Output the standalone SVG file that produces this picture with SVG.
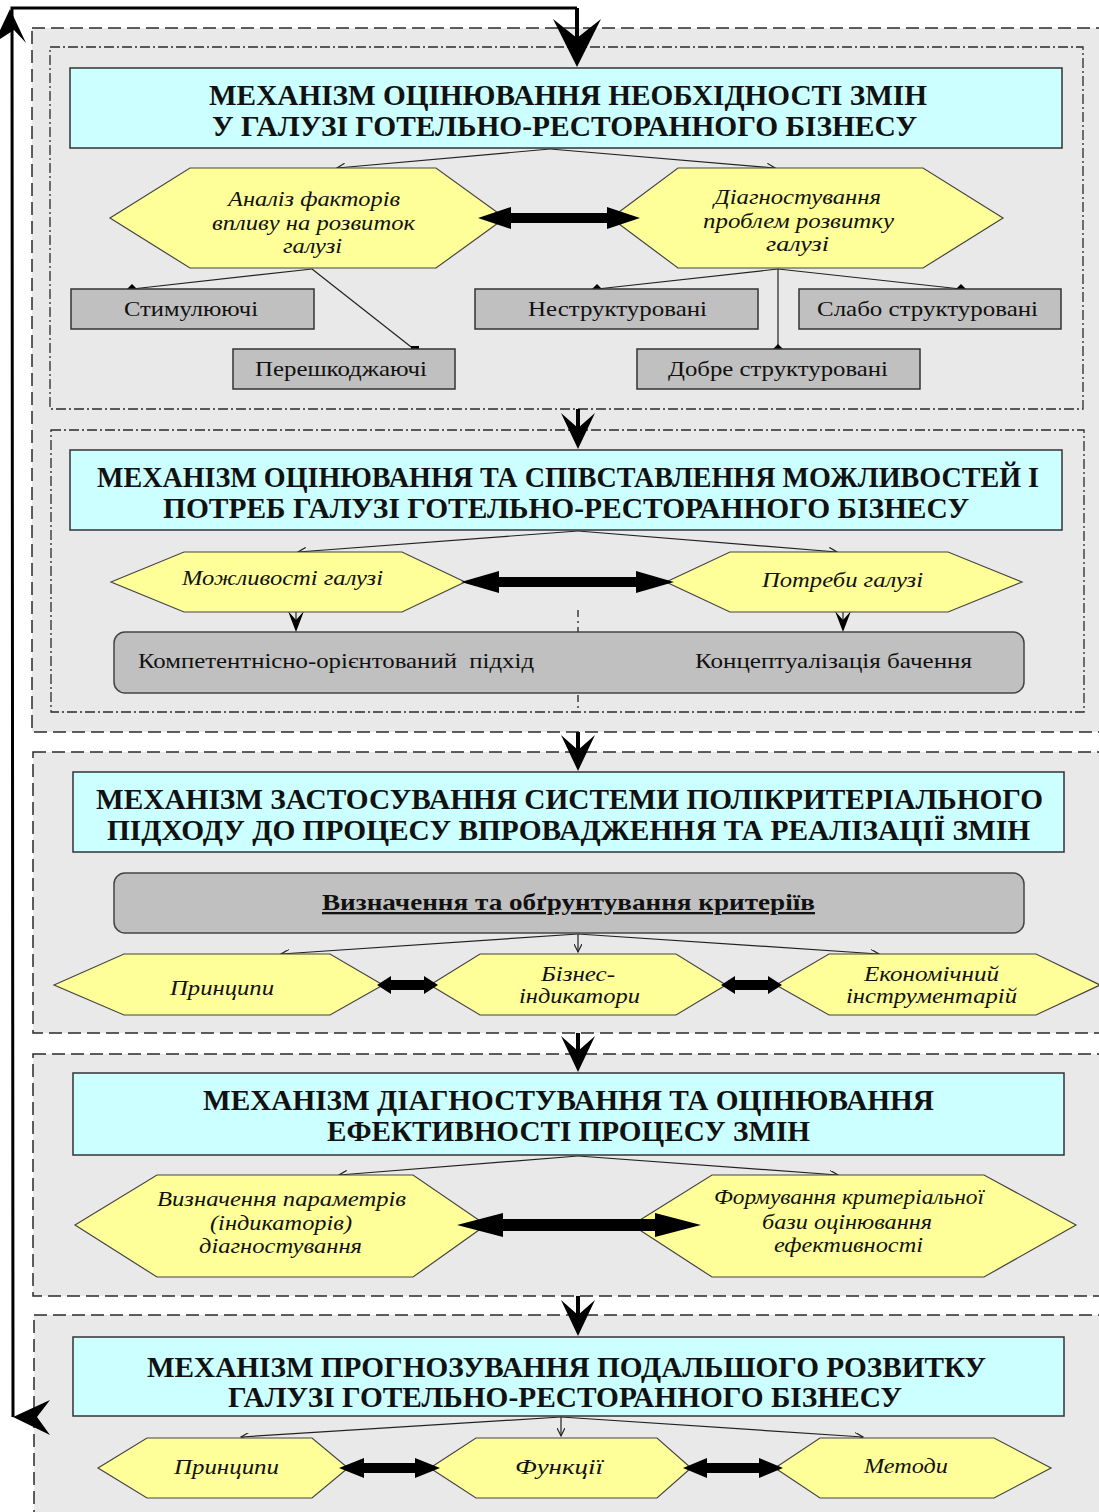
<svg xmlns="http://www.w3.org/2000/svg" width="1099" height="1512" viewBox="0 0 1099 1512">
<style>
.blk{fill:#e9e9e9;stroke:#2a2a2a;stroke-width:1.5;stroke-dasharray:13,6}
.inb{fill:#e9e9e9;stroke:#2a2a2a;stroke-width:1.3;stroke-dasharray:10,3,2,3}
.ttl{fill:#ccffff;stroke:#333;stroke-width:1.5}
.hex{fill:#ffff99;stroke:#444;stroke-width:1.2}
.gr{fill:#c0c0c0;stroke:#333;stroke-width:1.5}
.rr{fill:#c0c0c0;stroke:#444;stroke-width:1.5}
.tt{font-family:"Liberation Serif","Times New Roman",serif;font-weight:bold;font-size:29px;fill:#111}
.gt{font-family:"Liberation Serif","Times New Roman",serif;font-size:21px;fill:#111}
.ht{font-family:"Liberation Serif","Times New Roman",serif;font-style:italic;font-size:21px;fill:#111}
.bt{font-family:"Liberation Serif","Times New Roman",serif;font-weight:bold;font-size:23px;fill:#111;text-decoration:underline}
.cn{fill:none;stroke:#222;stroke-width:1.2}
.thk{fill:none;stroke:#000;stroke-width:4}
.fb{fill:none;stroke:#000;stroke-width:3}
.bk{fill:#000;stroke:none}
</style>
<defs>
<marker id="arr" markerUnits="userSpaceOnUse" markerWidth="10" markerHeight="8" refX="8" refY="4" orient="auto">
<path d="M0,0 L8,4 L0,8" fill="none" stroke="#222" stroke-width="1.2"/>
</marker>
<marker id="dia" markerUnits="userSpaceOnUse" markerWidth="10" markerHeight="10" refX="5" refY="5" orient="0">
<path d="M5,0 L10,5 L5,10 L0,5 Z" fill="#000"/>
</marker>
<marker id="sq" markerUnits="userSpaceOnUse" markerWidth="8" markerHeight="8" refX="4" refY="4" orient="0">
<rect x="0" y="0" width="8" height="8" fill="#000"/>
</marker>
</defs>
<rect width="1099" height="1512" fill="#fff"/>

<g id="blocks">
<rect class="blk" x="32" y="28" width="1090" height="704"/>
<rect class="inb" x="50" y="47" width="1033" height="362"/>
<rect class="inb" x="51" y="430" width="1033" height="282"/>
<rect class="blk" x="33" y="752" width="1090" height="281"/>
<rect class="blk" x="33" y="1054" width="1090" height="242"/>
<rect class="blk" x="34" y="1315" width="1090" height="230"/>
</g>

<g id="connectors">
<polyline class="fb" points="13,1417 12,8 577,8"/>
<polygon class="bk" points="10,9 26,43 14,30 -6,43"/>
<polygon class="bk" points="13,1417 50,1400 37,1417 50,1435"/>
<line class="thk" x1="577" y1="8" x2="577" y2="40"/>
<polygon class="bk" points="577,67 553,19 577,38 601,19"/>
<line class="thk" x1="578" y1="409" x2="578" y2="430"/>
<polygon class="bk" points="578,449 561,413 578,428 595,413"/>
<line class="thk" x1="578" y1="732" x2="578" y2="752"/>
<polygon class="bk" points="578,771 561,735 578,750 595,735"/>
<line class="thk" x1="578" y1="1033" x2="578" y2="1054"/>
<polygon class="bk" points="578,1072 561,1036 578,1051 595,1036"/>
<line class="thk" x1="578" y1="1296" x2="578" y2="1317"/>
<polygon class="bk" points="578,1336 561,1300 578,1315 595,1300"/>
<line class="cn" x1="550" y1="149" x2="337" y2="168" marker-end="url(#arr)"/>
<line class="cn" x1="550" y1="149" x2="775" y2="168" marker-end="url(#arr)"/>
<line class="cn" x1="312" y1="269" x2="132" y2="289" marker-end="url(#dia)"/>
<line class="cn" x1="312" y1="269" x2="415" y2="350" marker-end="url(#sq)"/>
<line class="cn" x1="778" y1="269" x2="597" y2="289" marker-end="url(#dia)"/>
<line class="cn" x1="778" y1="269" x2="961" y2="289" marker-end="url(#dia)"/>
<line class="cn" x1="778" y1="269" x2="778" y2="349" marker-end="url(#dia)"/>
<line class="cn" x1="578" y1="531" x2="298" y2="552" marker-end="url(#arr)"/>
<line class="cn" x1="578" y1="531" x2="837" y2="552" marker-end="url(#arr)"/>
<line x1="578" y1="610" x2="578" y2="712" stroke="#222" stroke-width="1.3" stroke-dasharray="7,4,2,4"/>
<line class="cn" x1="296" y1="612" x2="296" y2="622"/>
<polygon class="bk" points="296,632 288,611 296,620 304,611"/>
<line class="cn" x1="843" y1="612" x2="843" y2="622"/>
<polygon class="bk" points="843,632 835,611 843,620 851,611"/>
<line class="cn" x1="578" y1="934" x2="281" y2="954" marker-end="url(#arr)"/>
<line class="cn" x1="578" y1="934" x2="578" y2="952" marker-end="url(#arr)"/>
<line class="cn" x1="578" y1="934" x2="879" y2="954" marker-end="url(#arr)"/>
<line class="cn" x1="578" y1="1156" x2="339" y2="1175" marker-end="url(#arr)"/>
<line class="cn" x1="578" y1="1156" x2="838" y2="1175" marker-end="url(#arr)"/>
<line class="cn" x1="561" y1="1417" x2="241" y2="1437" marker-end="url(#arr)"/>
<line class="cn" x1="561" y1="1417" x2="561" y2="1436" marker-end="url(#arr)"/>
<line class="cn" x1="561" y1="1417" x2="863" y2="1437" marker-end="url(#arr)"/>
</g>

<g id="title1">
<rect class="ttl" x="70" y="68" width="992" height="80"/>
<text class="tt" x="209" y="105" textLength="718" lengthAdjust="spacingAndGlyphs">МЕХАНІЗМ ОЦІНЮВАННЯ НЕОБХІДНОСТІ ЗМІН</text>
<text class="tt" x="212" y="136" textLength="705" lengthAdjust="spacingAndGlyphs">У ГАЛУЗІ ГОТЕЛЬНО-РЕСТОРАННОГО БІЗНЕСУ</text>
</g>
<g id="hex-analiz">
<polygon class="hex" points="110,218 190,168 436,168 505,218 436,268 190,268"/>
<text class="ht" x="228" y="206" textLength="172" lengthAdjust="spacingAndGlyphs">Аналіз факторів</text>
<text class="ht" x="212" y="230" textLength="203" lengthAdjust="spacingAndGlyphs">впливу на розвиток</text>
<text class="ht" x="283" y="253" textLength="59" lengthAdjust="spacingAndGlyphs">галузі</text>
</g>
<g id="hex-diagn">
<polygon class="hex" points="611,218 678,168 923,168 1003,218 923,268 678,268"/>
<text class="ht" x="714" y="204" textLength="167" lengthAdjust="spacingAndGlyphs">Діагностування</text>
<text class="ht" x="703" y="228" textLength="191" lengthAdjust="spacingAndGlyphs">проблем розвитку</text>
<text class="ht" x="766" y="251" textLength="63" lengthAdjust="spacingAndGlyphs">галузі</text>
</g>
<g id="darrow1"><polygon class="bk" points="478,218 511,207 511,213 607,213 607,207 640,218 607,229 607,223 511,223 511,229"/></g>
<g id="r-stym"><rect class="gr" x="71" y="289" width="243" height="40"/><text class="gt" x="124" y="316" textLength="134" lengthAdjust="spacingAndGlyphs">Стимулюючі</text></g>
<g id="r-pere"><rect class="gr" x="233" y="349" width="222" height="40"/><text class="gt" x="255" y="376" textLength="172" lengthAdjust="spacingAndGlyphs">Перешкоджаючі</text></g>
<g id="r-nestr"><rect class="gr" x="475" y="289" width="283" height="40"/><text class="gt" x="528" y="316" textLength="179" lengthAdjust="spacingAndGlyphs">Неструктуровані</text></g>
<g id="r-slabo"><rect class="gr" x="799" y="289" width="262" height="40"/><text class="gt" x="817" y="316" textLength="221" lengthAdjust="spacingAndGlyphs">Слабо структуровані</text></g>
<g id="r-dobre"><rect class="gr" x="637" y="349" width="283" height="40"/><text class="gt" x="668" y="376" textLength="220" lengthAdjust="spacingAndGlyphs">Добре структуровані</text></g>

<g id="title2">
<rect class="ttl" x="70" y="450" width="992" height="80"/>
<text class="tt" x="97" y="487" textLength="942" lengthAdjust="spacingAndGlyphs">МЕХАНІЗМ ОЦІНЮВАННЯ ТА СПІВСТАВЛЕННЯ МОЖЛИВОСТЕЙ І</text>
<text class="tt" x="163" y="518" textLength="806" lengthAdjust="spacingAndGlyphs">ПОТРЕБ ГАЛУЗІ ГОТЕЛЬНО-РЕСТОРАННОГО БІЗНЕСУ</text>
</g>
<g id="hex-mozhl">
<polygon class="hex" points="111,582 184,552 402,552 465,582 402,612 184,612"/>
<text class="ht" x="182" y="585" textLength="201" lengthAdjust="spacingAndGlyphs">Можливості галузі</text>
</g>
<g id="hex-potr">
<polygon class="hex" points="666,582 730,552 948,552 1022,582 948,612 730,612"/>
<text class="ht" x="762" y="587" textLength="161" lengthAdjust="spacingAndGlyphs">Потреби галузі</text>
</g>
<g id="darrow2"><polygon class="bk" points="461,582 499,571 499,577 636,577 636,571 674,582 636,593 636,587 499,587 499,593"/></g>
<g id="rr-komp">
<rect class="rr" x="114" y="632" width="910" height="61" rx="11"/>
<text class="gt" x="138" y="668" textLength="396" lengthAdjust="spacingAndGlyphs" xml:space="preserve">Компетентнісно-орієнтований  підхід</text>
<text class="gt" x="695" y="668" textLength="277" lengthAdjust="spacingAndGlyphs">Концептуалізація бачення</text>
</g>

<g id="title3">
<rect class="ttl" x="73" y="772" width="991" height="80"/>
<text class="tt" x="96" y="809" textLength="947" lengthAdjust="spacingAndGlyphs">МЕХАНІЗМ ЗАСТОСУВАННЯ СИСТЕМИ ПОЛІКРИТЕРІАЛЬНОГО</text>
<text class="tt" x="107" y="840" textLength="923" lengthAdjust="spacingAndGlyphs">ПІДХОДУ ДО ПРОЦЕСУ ВПРОВАДЖЕННЯ ТА РЕАЛІЗАЦІЇ ЗМІН</text>
</g>
<g id="rr-kryt">
<rect class="rr" x="114" y="873" width="910" height="60" rx="11"/>
<text class="bt" x="322" y="910" textLength="493" lengthAdjust="spacingAndGlyphs">Визначення та обґрунтування критеріїв</text>
</g>
<g id="hex-pryn3">
<polygon class="hex" points="54,985 124,954 330,954 383,985 330,1015 124,1015"/>
<text class="ht" x="170" y="995" textLength="104" lengthAdjust="spacingAndGlyphs">Принципи</text>
</g>
<g id="hex-biznes">
<polygon class="hex" points="430,985 480,954 676,954 726,985 676,1015 480,1015"/>
<text class="ht" x="541" y="981" textLength="74" lengthAdjust="spacingAndGlyphs">Бізнес-</text>
<text class="ht" x="519" y="1003" textLength="121" lengthAdjust="spacingAndGlyphs">індикатори</text>
</g>
<g id="hex-ekon">
<polygon class="hex" points="776,985 829,954 1036,954 1100,985 1036,1015 829,1015"/>
<text class="ht" x="864" y="981" textLength="135" lengthAdjust="spacingAndGlyphs">Економічний</text>
<text class="ht" x="846" y="1003" textLength="171" lengthAdjust="spacingAndGlyphs">інструментарій</text>
</g>
<g id="darrow3a"><polygon class="bk" points="377,985 391,976 391,980 424,980 424,976 438,985 424,994 424,990 391,990 391,994"/></g>
<g id="darrow3b"><polygon class="bk" points="721,985 735,976 735,980 768,980 768,976 782,985 768,994 768,990 735,990 735,994"/></g>

<g id="title4">
<rect class="ttl" x="73" y="1073" width="991" height="82"/>
<text class="tt" x="203" y="1110" textLength="731" lengthAdjust="spacingAndGlyphs">МЕХАНІЗМ ДІАГНОСТУВАННЯ ТА ОЦІНЮВАННЯ</text>
<text class="tt" x="327" y="1141" textLength="483" lengthAdjust="spacingAndGlyphs">ЕФЕКТИВНОСТІ ПРОЦЕСУ ЗМІН</text>
</g>
<g id="hex-param">
<polygon class="hex" points="75,1225 157,1175 413,1175 486,1225 413,1277 157,1277"/>
<text class="ht" x="157" y="1206" textLength="249" lengthAdjust="spacingAndGlyphs">Визначення параметрів</text>
<text class="ht" x="210" y="1230" textLength="142" lengthAdjust="spacingAndGlyphs">(індикаторів)</text>
<text class="ht" x="199" y="1253" textLength="163" lengthAdjust="spacingAndGlyphs">діагностування</text>
</g>
<g id="hex-form">
<polygon class="hex" points="632,1225 712,1175 984,1175 1076,1225 984,1277 712,1277"/>
<text class="ht" x="714" y="1204" textLength="270" lengthAdjust="spacingAndGlyphs">Формування критеріальної</text>
<text class="ht" x="762" y="1229" textLength="170" lengthAdjust="spacingAndGlyphs">бази оцінювання</text>
<text class="ht" x="774" y="1252" textLength="149" lengthAdjust="spacingAndGlyphs">ефективності</text>
</g>
<g id="darrow4"><polygon class="bk" points="457,1225 503,1213 503,1219 655,1219 655,1213 701,1225 655,1237 655,1231 503,1231 503,1237"/></g>

<g id="title5">
<rect class="ttl" x="73" y="1337" width="991" height="79"/>
<text class="tt" x="147" y="1377" textLength="839" lengthAdjust="spacingAndGlyphs">МЕХАНІЗМ ПРОГНОЗУВАННЯ ПОДАЛЬШОГО РОЗВИТКУ</text>
<text class="tt" x="228" y="1407" textLength="674" lengthAdjust="spacingAndGlyphs">ГАЛУЗІ ГОТЕЛЬНО-РЕСТОРАННОГО БІЗНЕСУ</text>
</g>
<g id="hex-pryn5">
<polygon class="hex" points="98,1468 147,1438 312,1438 348,1468 312,1498 147,1498"/>
<text class="ht" x="174" y="1474" textLength="105" lengthAdjust="spacingAndGlyphs">Принципи</text>
</g>
<g id="hex-funk">
<polygon class="hex" points="430,1468 476,1438 657,1438 691,1468 657,1498 476,1498"/>
<text class="ht" x="515" y="1474" textLength="88" lengthAdjust="spacingAndGlyphs">Функції</text>
</g>
<g id="hex-metod">
<polygon class="hex" points="775,1468 820,1438 994,1438 1051,1468 994,1498 820,1498"/>
<text class="ht" x="864" y="1473" textLength="84" lengthAdjust="spacingAndGlyphs">Методи</text>
</g>
<g id="darrow5a"><polygon class="bk" points="339,1468 364,1458 364,1463 415,1463 415,1458 440,1468 415,1478 415,1473 364,1473 364,1478"/></g>
<g id="darrow5b"><polygon class="bk" points="683,1468 707,1458 707,1463 759,1463 759,1458 783,1468 759,1478 759,1473 707,1473 707,1478"/></g>
</svg>
